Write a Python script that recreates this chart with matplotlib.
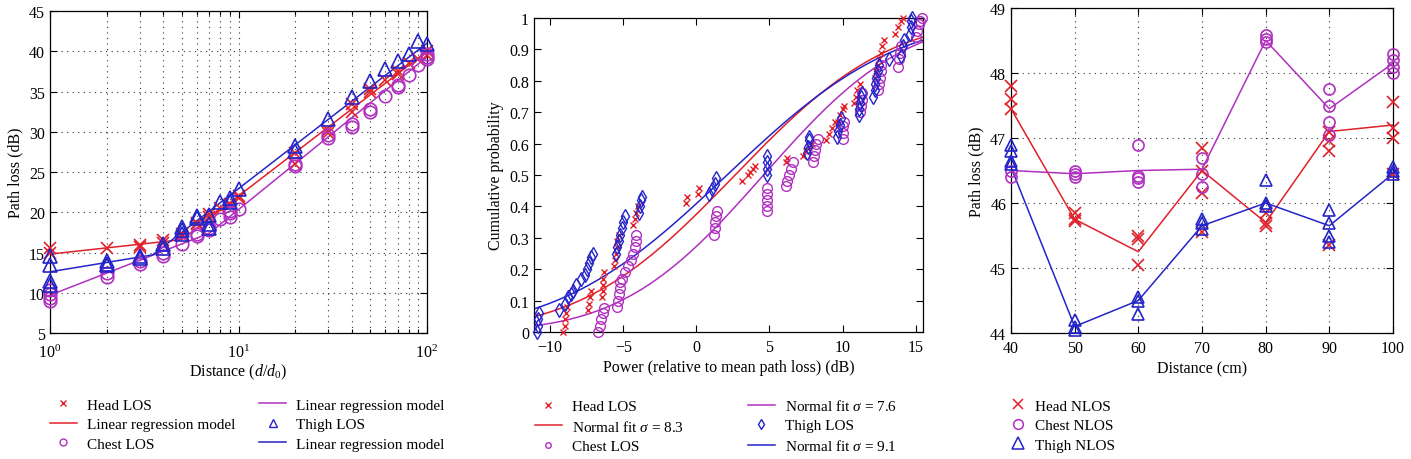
import math
import numpy as np
import matplotlib
matplotlib.use("Agg")
import matplotlib.pyplot as plt
from matplotlib.lines import Line2D

plt.rcParams['font.family'] = ['Liberation Serif', 'DejaVu Serif']
plt.rcParams['mathtext.fontset'] = 'custom'
plt.rcParams['mathtext.rm'] = 'Liberation Serif'
plt.rcParams['mathtext.it'] = 'Liberation Serif:italic'
plt.rcParams['axes.linewidth'] = 0.9

RED = '#e0202a'
MAG = '#b030c0'
BLUE = '#2424c8'

# ---------------- Panel 1 data (LOS path loss vs distance) ----------------
dist_los = [1, 2, 3, 4, 5, 6, 7, 8, 9, 10, 20, 30, 40, 50, 60, 70, 80, 90, 100]
head_los = [[15.5, 15.0], [15.6], [15.9, 15.7], [16.5, 16.2], [17.0, 17.3],
            [18.5, 18.7], [19.8, 19.4], [20.5], [20.9, 21.0], [22.0, 21.8],
            [27.3, 26.0], [30.2, 29.8], [33.5, 32.5], [35.3, 35.0], [36.4],
            [37.2, 37.5], [38.5], [39.0], [39.5, 40.0]]
chest_los = [[10.3, 9.8, 9.3, 9.0], [12.0, 12.5], [13.6, 13.9], [14.6, 14.9], [16.1],
             [17.0, 17.3], [17.8, 18.0], [19.2], [19.4, 19.9, 20.2], [20.4],
             [25.7, 26.0], [29.2, 29.6], [30.6, 31.0], [32.5, 32.8], [34.5],
             [35.5, 35.8], [37.0], [38.3], [39.0, 39.3, 39.7]]
thigh_los = [[14.6, 13.4, 11.5, 11.0], [13.6, 14.0, 13.4], [14.3, 14.6], [15.6, 16.0],
             [17.8, 18.2, 17.3], [19.3, 19.5], [18.0, 18.5, 19.7], [21.3],
             [21.8, 21.3], [22.9], [28.2, 27.6], [31.6], [34.3], [36.3], [37.8],
             [38.8], [39.7], [41.3], [40.9]]
# two-slope regression models (breakpoints)
head_fit_d = [1, 5, 100]
head_fit_pl = [14.8, 16.6, 40.0]
chest_fit_d = [1, 7, 100]
chest_fit_pl = [9.7, 17.4, 39.3]
thigh_fit_d = [1, 3.5, 100]
thigh_fit_pl = [12.6, 14.7, 41.0]

# ---------------- Panel 2 data (empirical CDFs) ----------------
head_cdf_x = [-9.1, -9.0, -8.95, -8.9, -8.85, -7.4, -7.35, -7.3, -7.2,
              -6.45, -6.4, -6.4, -6.35, -6.3, -5.6, -5.55, -5.5, -5.45, -5.4, -5.3,
              -4.3, -4.2, -4.1, -4.0, -0.7, -0.65, 0.1, 0.15,
              3.1, 3.5, 3.7, 3.9, 4.0, 6.1, 6.2, 7.3, 7.5, 7.7, 7.9,
              8.9, 9.1, 9.3, 9.5, 9.7, 9.85, 10.0, 10.1,
              10.8, 10.9, 11.0, 11.2, 12.2, 12.3, 12.4, 12.5, 12.6, 12.7, 12.8,
              13.6, 13.8, 14.0, 14.1]
head_cdf_p = [0.0, 0.02, 0.04, 0.06, 0.08, 0.07, 0.09, 0.11, 0.13,
              0.11, 0.13, 0.15, 0.17, 0.19, 0.21, 0.23, 0.25, 0.27, 0.29, 0.31,
              0.34, 0.36, 0.38, 0.40, 0.41, 0.43, 0.44, 0.46,
              0.48, 0.50, 0.51, 0.52, 0.53, 0.54, 0.555, 0.56, 0.575, 0.59, 0.60,
              0.61, 0.63, 0.65, 0.67, 0.67, 0.69, 0.71, 0.72,
              0.73, 0.75, 0.77, 0.79, 0.81, 0.83, 0.85, 0.87, 0.89, 0.91, 0.93,
              0.95, 0.97, 0.99, 1.0]
chest_cdf_x = [-6.7, -6.6, -6.5, -6.4, -6.3, -5.4, -5.35, -5.3, -5.25, -5.2,
               -5.1, -4.9, -4.7, -4.5, -4.3, -4.2, -4.15, -4.1,
               1.2, 1.25, 1.3, 1.35, 1.4, 4.85, 4.85, 4.85, 4.85, 4.85,
               6.1, 6.2, 6.35, 6.5, 6.6, 8.0, 8.05, 8.1, 8.2, 8.3,
               10.0, 10.0, 10.05, 10.1, 11.2, 11.25, 11.3, 11.35,
               12.4, 12.5, 12.55, 12.6, 12.65, 13.8, 13.85, 13.9, 14.0,
               15.0, 15.1, 15.2, 15.3, 15.4]
chest_cdf_p = [0.0, 0.02, 0.04, 0.06, 0.075, 0.08, 0.10, 0.12, 0.14, 0.16,
               0.17, 0.19, 0.21, 0.23, 0.25, 0.27, 0.29, 0.31,
               0.31, 0.33, 0.35, 0.37, 0.385, 0.385, 0.40, 0.42, 0.44, 0.46,
               0.465, 0.48, 0.50, 0.52, 0.54, 0.54, 0.56, 0.58, 0.60, 0.615,
               0.615, 0.635, 0.655, 0.67, 0.70, 0.72, 0.74, 0.76,
               0.77, 0.79, 0.81, 0.83, 0.85, 0.845, 0.87, 0.89, 0.91,
               0.94, 0.96, 0.98, 0.99, 1.0]
thigh_cdf_x = [-10.9, -10.85, -10.8, -10.75, -9.4, -9.0, -8.8, -8.6, -8.4, -8.2, -7.9,
               -7.6, -7.5, -7.35, -7.2, -7.05, -5.5, -5.4, -5.3, -5.2, -5.1, -5.0, -4.9,
               -3.95, -3.85, -3.75, -3.7, 0.9, 1.1, 1.3, 1.35,
               4.8, 4.8, 4.85, 4.85, 7.6, 7.65, 7.7, 7.7, 9.6, 9.7, 9.8, 9.9,
               11.1, 11.15, 11.2, 11.25, 11.3, 12.1, 12.2, 12.25, 12.3, 12.4, 12.5,
               13.2, 14.0, 14.1, 14.2, 14.6, 14.65, 14.7, 14.75]
thigh_cdf_p = [0.0, 0.02, 0.04, 0.06, 0.07, 0.09, 0.11, 0.12, 0.13, 0.15, 0.17,
               0.18, 0.20, 0.22, 0.24, 0.25, 0.25, 0.27, 0.29, 0.31, 0.33, 0.35, 0.37,
               0.38, 0.40, 0.42, 0.43, 0.44, 0.455, 0.47, 0.49,
               0.50, 0.52, 0.54, 0.56, 0.57, 0.59, 0.61, 0.62, 0.62, 0.64, 0.66, 0.68,
               0.69, 0.71, 0.73, 0.75, 0.76, 0.75, 0.77, 0.79, 0.81, 0.83, 0.85,
               0.87, 0.88, 0.91, 0.93, 0.95, 0.97, 0.99, 1.0]
# normal fit parameters (mean, sigma)
head_fit_mu, head_fit_sigma = 2.65, 8.3
chest_fit_mu, chest_fit_sigma = 4.6, 7.6
thigh_fit_mu, thigh_fit_sigma = 2.1, 9.1

# ---------------- Panel 3 data (NLOS path loss) ----------------
dist_nlos = [40, 50, 60, 70, 80, 90, 100]
head_nlos = [[47.8, 47.6, 47.45], [45.85, 45.75, 45.72], [45.5, 45.45, 45.05],
             [46.85, 46.5, 46.15, 45.55], [45.7, 45.65, 45.85],
             [47.1, 46.95, 46.8, 45.35], [47.55, 47.15, 47.0, 46.45]]
head_nlos_mean = [47.45, 45.75, 45.25, 46.5, 45.7, 47.1, 47.2]
chest_nlos = [[46.5, 46.4], [46.5, 46.45, 46.4], [46.9, 46.42, 46.38, 46.33],
              [46.7, 46.45, 46.25], [48.58, 48.52, 48.48],
              [47.75, 47.5, 47.25, 47.05], [48.3, 48.2, 48.1, 48.0]]
chest_nlos_mean = [46.5, 46.45, 46.5, 46.52, 48.5, 47.45, 48.15]
thigh_nlos = [[46.9, 46.8, 46.65, 46.6], [44.2, 44.1, 44.05], [44.55, 44.5, 44.3],
              [45.75, 45.7, 45.6], [46.35, 46.0, 45.95],
              [45.9, 45.7, 45.5, 45.4], [46.55, 46.5, 46.45]]
thigh_nlos_mean = [46.55, 44.1, 44.5, 45.65, 46.0, 45.65, 46.45]


def flatten(xs, groups):
    fx, fy = [], []
    for x, g in zip(xs, groups):
        for v in g:
            fx.append(x)
            fy.append(v)
    return fx, fy


W, H = 1411, 460
fig = plt.figure(figsize=(W / 100, H / 100), dpi=100)


def box(l, t, r, b):
    return [l / W, 1 - b / H, (r - l) / W, (b - t) / H]


GRID = dict(color='#333333', linestyle=(0, (1, 4)), linewidth=0.8)
TICKFS = 11.5
LABFS = 11.5
LEGFS = 11


def style(ax, xpad=5):
    ax.tick_params(which='both', direction='in', top=True, right=True,
                   labelsize=TICKFS, width=0.8)
    ax.tick_params(which='major', length=5)
    ax.tick_params(which='minor', length=3)
    ax.tick_params(axis='x', pad=xpad)


# ---------------- Panel 1 ----------------
ax1 = fig.add_axes(box(50, 12, 427, 334))
hx, hy = flatten(dist_los, head_los)
cx, cy = flatten(dist_los, chest_los)
tx, ty = flatten(dist_los, thigh_los)
ax1.plot(hx, hy, linestyle='none', marker='x', ms=8, mew=1.2, color=RED, clip_on=False, zorder=3)
ax1.plot(cx, cy, linestyle='none', marker='o', ms=9, mew=1.2, mfc='none', color=MAG, clip_on=False, zorder=3)
ax1.plot(tx, ty, linestyle='none', marker='^', ms=10, mew=1.2, mfc='none', color=BLUE, clip_on=False, zorder=3)
ax1.plot(head_fit_d, head_fit_pl, color=RED, lw=1.1)
ax1.plot(chest_fit_d, chest_fit_pl, color=MAG, lw=1.1)
ax1.plot(thigh_fit_d, thigh_fit_pl, color=BLUE, lw=1.1)
ax1.set_xscale('log')
ax1.set_xlim(1, 100)
ax1.set_ylim(5, 45)
ax1.set_yticks(range(5, 46, 5))
ax1.grid(which='both', axis='x', **GRID)
ax1.grid(which='major', axis='y', **GRID)
style(ax1, xpad=8)
ax1.set_xlabel(r'Distance ($d/d_0$)', fontsize=LABFS, labelpad=0)
ax1.set_ylabel('Path loss (dB)', fontsize=LABFS, labelpad=4)

h1 = [Line2D([], [], ls='none', marker='x', ms=5, mew=1.0, color=RED),
      Line2D([], [], color=RED, lw=1.1),
      Line2D([], [], ls='none', marker='o', ms=5, mew=1.0, mfc='none', color=MAG),
      Line2D([], [], color=MAG, lw=1.1),
      Line2D([], [], ls='none', marker='^', ms=6, mew=1.0, mfc='none', color=BLUE),
      Line2D([], [], color=BLUE, lw=1.1)]
l1 = ['Head LOS', 'Linear regression model', 'Chest LOS',
      'Linear regression model', 'Thigh LOS', 'Linear regression model']
leg_kw = dict(frameon=False, ncol=2, loc='upper left', fontsize=LEGFS,
              borderpad=0, borderaxespad=0, labelspacing=0.38,
              handletextpad=0.65, handlelength=1.75, columnspacing=1.6)
fig.legend(h1, l1, bbox_to_anchor=(50 / W, 1 - 399 / H), **leg_kw)

# ---------------- Panel 2 ----------------
ax2 = fig.add_axes(box(534, 19, 923, 333))
xs = np.linspace(-11.1, 15.5, 300)


def ncdf(x, mu, s):
    return np.array([0.5 * (1 + math.erf((v - mu) / (s * math.sqrt(2)))) for v in x])


ax2.plot(head_cdf_x, head_cdf_p, ls='none', marker='x', ms=5, mew=1.0, color=RED, clip_on=False, zorder=3)
ax2.plot(chest_cdf_x, chest_cdf_p, ls='none', marker='o', ms=7, mew=1.0, mfc='none', color=MAG, clip_on=False, zorder=3)
ax2.plot(thigh_cdf_x, thigh_cdf_p, ls='none', marker='d', ms=7, mew=1.0, mfc='none', color=BLUE, clip_on=False, zorder=3)
ax2.plot(xs, ncdf(xs, head_fit_mu, head_fit_sigma), color=RED, lw=1.1)
ax2.plot(xs, ncdf(xs, chest_fit_mu, chest_fit_sigma), color=MAG, lw=1.1)
ax2.plot(xs, ncdf(xs, thigh_fit_mu, thigh_fit_sigma), color=BLUE, lw=1.1)
ax2.set_xlim(-11.1, 15.5)
ax2.set_ylim(0, 1)
ax2.set_xticks([-10, -5, 0, 5, 10, 15])
ax2.set_xticklabels(['\u221210', '\u22125', '0', '5', '10', '15'])
yt = [i / 10 for i in range(11)]
ax2.set_yticks(yt)
ax2.set_yticklabels(['0'] + ['%.1f' % v for v in yt[1:-1]] + ['1'])
style(ax2)
ax2.set_xlabel('Power (relative to mean path loss) (dB)', fontsize=LABFS, labelpad=3)
ax2.set_ylabel('Cumulative probability', fontsize=LABFS, labelpad=4)

h2 = [Line2D([], [], ls='none', marker='x', ms=4, mew=1.0, color=RED),
      Line2D([], [], color=RED, lw=1.1),
      Line2D([], [], ls='none', marker='o', ms=4, mew=1.0, mfc='none', color=MAG),
      Line2D([], [], color=MAG, lw=1.1),
      Line2D([], [], ls='none', marker='d', ms=5, mew=1.0, mfc='none', color=BLUE),
      Line2D([], [], color=BLUE, lw=1.1)]
l2 = ['Head LOS', r'Normal fit $\sigma$ = 8.3', 'Chest LOS',
      r'Normal fit $\sigma$ = 7.6', 'Thigh LOS', r'Normal fit $\sigma$ = 9.1']
kw2 = dict(leg_kw)
kw2['columnspacing'] = 4.2
fig.legend(h2, l2, bbox_to_anchor=(535 / W, 1 - 399 / H), **kw2)

# ---------------- Panel 3 ----------------
ax3 = fig.add_axes(box(1011, 9, 1393, 334))
hx, hy = flatten(dist_nlos, head_nlos)
cx, cy = flatten(dist_nlos, chest_nlos)
tx, ty = flatten(dist_nlos, thigh_nlos)
ax3.plot(hx, hy, ls='none', marker='x', ms=8, mew=1.2, color=RED, clip_on=False, zorder=3)
ax3.plot(cx, cy, ls='none', marker='o', ms=8, mew=1.2, mfc='none', color=MAG, clip_on=False, zorder=3)
ax3.plot(tx, ty, ls='none', marker='^', ms=9, mew=1.2, mfc='none', color=BLUE, clip_on=False, zorder=3)
ax3.plot(dist_nlos, head_nlos_mean, color=RED, lw=1.1)
ax3.plot(dist_nlos, chest_nlos_mean, color=MAG, lw=1.1)
ax3.plot(dist_nlos, thigh_nlos_mean, color=BLUE, lw=1.1)
ax3.set_xlim(40, 100)
ax3.set_ylim(44, 49)
ax3.set_xticks(dist_nlos)
ax3.set_yticks(range(44, 50))
ax3.grid(which='major', **GRID)
style(ax3)
ax3.set_xlabel('Distance (cm)', fontsize=LABFS, labelpad=3)
ax3.set_ylabel('Path loss (dB)', fontsize=LABFS, labelpad=4)

h3 = [Line2D([], [], ls='none', marker='x', ms=7, mew=1.1, color=RED),
      Line2D([], [], ls='none', marker='o', ms=7, mew=1.1, mfc='none', color=MAG),
      Line2D([], [], ls='none', marker='^', ms=8, mew=1.1, mfc='none', color=BLUE)]
l3 = ['Head NLOS', 'Chest NLOS', 'Thigh NLOS']
kw3 = dict(leg_kw)
kw3['ncol'] = 1
kw3['handlelength'] = 1.2
kw3['handletextpad'] = 0.5
fig.legend(h3, l3, bbox_to_anchor=(1009 / W, 1 - 400 / H), **kw3)

fig.savefig('out.png', dpi=100)
